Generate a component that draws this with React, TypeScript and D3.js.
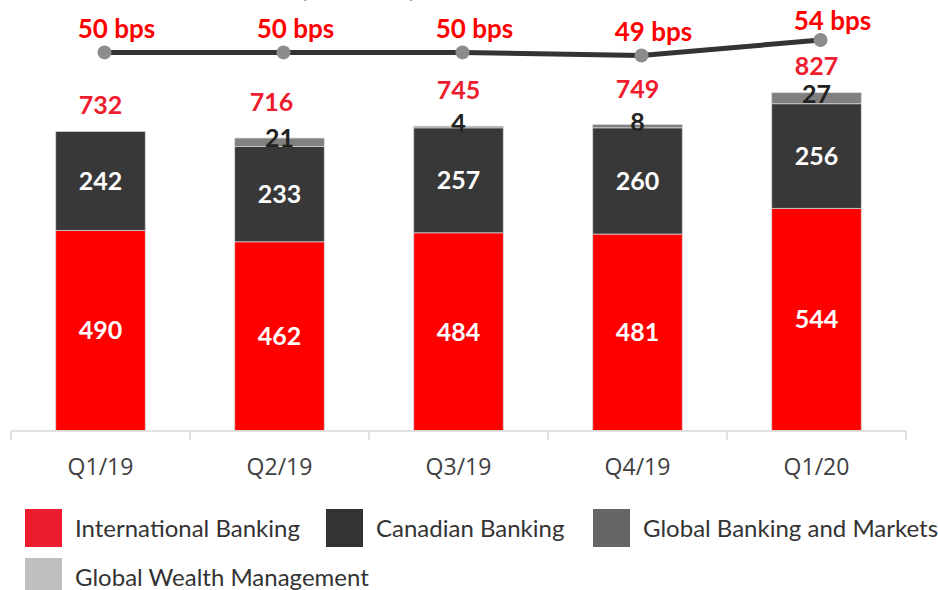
import React from "react";
import * as d3 from "d3";

const categories = ["Q1/19", "Q2/19", "Q3/19", "Q4/19", "Q1/20"];
const international = [490, 462, 484, 481, 544];
const canadian = [242, 233, 257, 260, 256];
const globalBanking = [0, 21, 4, 8, 27];
const globalWealth = [0, 0, 0, 0, 0];
const bps = [50, 50, 50, 49, 54];

const seriesNames = [
  "International Banking",
  "Canadian Banking",
  "Global Banking and Markets",
  "Global Wealth Management",
];
const barColors = ["#ff0000", "#383838", "#808080", "#bfbfbf"];
const legendColors = ["#ed1c2e", "#333333", "#666666", "#bfbfbf"];

const W = 938;
const H = 590;
const FONT = "Lato, 'Open Sans', sans-serif";

export default function App() {
  const rows = categories.map((c, i) => ({
    cat: c,
    s0: international[i],
    s1: canadian[i],
    s2: globalBanking[i],
    s3: globalWealth[i],
  }));
  const keys = ["s0", "s1", "s2", "s3"];
  const stacked = d3.stack().keys(keys)(rows as any);

  const x = d3
    .scaleBand()
    .domain(categories)
    .range([11, 906])
    .paddingInner(0.5)
    .paddingOuter(0.25);
  const step = x.step();
  const y = d3.scaleLinear().domain([0, 1054]).range([430.5, 0]);
  const yLine = d3.scaleLinear().domain([49, 54]).range([55.5, 40]);

  const px = (c: string) => (x(c) as number) + x.bandwidth() / 2 + 4;
  const line = d3
    .line<number>()
    .x((_, i) => px(categories[i]))
    .y((d) => yLine(d));

  // legend layout (two rows)
  const legendPos = [
    [25, 509],
    [326, 509],
    [593, 509],
    [25, 558],
  ];

  return (
    <svg
      width={W}
      height={H}
      style={{ position: "fixed", left: 0, top: 0, background: "#fff" }}
      fontFamily={FONT}
    >
      {/* title, mostly cut off above the frame */}
      <text x={358} y={-3} textAnchor="middle" fontSize={24} fontWeight="bold" fill="#333">
        ($ millions)
      </text>

      {/* bars */}
      {stacked.map((layer, li) =>
        layer.map((d, i) => {
          const v = d[1] - d[0];
          if (v <= 0) return null;
          return (
            <rect
              key={`${li}-${i}`}
              x={x(categories[i])}
              y={y(d[1])}
              width={x.bandwidth()}
              height={y(d[0]) - y(d[1])}
              fill={barColors[li]}
              stroke="#d4d4d4"
              strokeWidth={0.75}
            />
          );
        })
      )}

      {/* inside labels */}
      {stacked.slice(0, 2).map((layer, li) =>
        layer.map((d, i) => (
          <text
            key={`in-${li}-${i}`}
            x={(x(categories[i]) as number) + x.bandwidth() / 2}
            y={(y(d[0]) + y(d[1])) / 2}
            dy="0.36em"
            textAnchor="middle"
            fontSize={25}
            fontWeight="bold"
            fill="#fff"
          >
            {d[1] - d[0]}
          </text>
        ))
      )}

      {/* global banking labels */}
      {stacked[2].map((d, i) =>
        d[1] - d[0] > 0 ? (
          <text
            key={`gb-${i}`}
            x={(x(categories[i]) as number) + x.bandwidth() / 2}
            y={(y(d[0]) + y(d[1])) / 2 - 4}
            dy="0.36em"
            textAnchor="middle"
            fontSize={25}
            fontWeight="bold"
            fill="#222"
          >
            {d[1] - d[0]}
          </text>
        ) : null
      )}

      {/* totals */}
      {rows.map((r, i) => {
        const total = r.s0 + r.s1 + r.s2 + r.s3;
        const off = r.s2 > 0 && r.s2 < 25 ? 36 : 27;
        return (
          <text
            key={`tot-${i}`}
            x={(x(r.cat) as number) + x.bandwidth() / 2 - (i === 1 ? 8 : 0)}
            y={y(total) - off}
            dy="0.36em"
            textAnchor="middle"
            fontSize={25}
            fontWeight="bold"
            fill="#ee1c2e"
          >
            {total}
          </text>
        );
      })}

      {/* axis */}
      <line x1={11} x2={906} y1={431} y2={431} stroke="#d9d9d9" strokeWidth={1.5} />
      {d3.range(categories.length + 1).map((k) => (
        <line
          key={`tk-${k}`}
          x1={11 + k * step}
          x2={11 + k * step}
          y1={431}
          y2={440}
          stroke="#d9d9d9"
          strokeWidth={1.5}
        />
      ))}
      {categories.map((c) => (
        <text
          key={`cl-${c}`}
          x={(x(c) as number) + x.bandwidth() / 2}
          y={467}
          dy="0.36em"
          textAnchor="middle"
          fontSize={23}
          fontFamily="'Open Sans', sans-serif"
          fill="#404040"
        >
          {c}
        </text>
      ))}

      {/* bps line */}
      <path d={line(bps) as string} fill="none" stroke="#333" strokeWidth={5} />
      {bps.map((v, i) => (
        <circle key={`pt-${i}`} cx={px(categories[i])} cy={yLine(v)} r={7} fill="#8c8c8c" />
      ))}
      {bps.map((v, i) => (
        <text
          key={`bl-${i}`}
          x={px(categories[i]) + 12}
          y={Math.max(yLine(v) - 24, 21)}
          dy="0.36em"
          textAnchor="middle"
          fontSize={26}
          fontWeight="bold"
          fill="#ff0000"
        >
          {`${v} bps`}
        </text>
      ))}

      {/* legend */}
      {seriesNames.map((n, i) => (
        <g key={`lg-${i}`} transform={`translate(${legendPos[i][0]},${legendPos[i][1]})`}>
          <rect width={37} height={38} fill={legendColors[i]} />
          <text x={50} y={19} dy="0.36em" fontSize={24} fill="#333">
            {n}
          </text>
        </g>
      ))}
    </svg>
  );
}
